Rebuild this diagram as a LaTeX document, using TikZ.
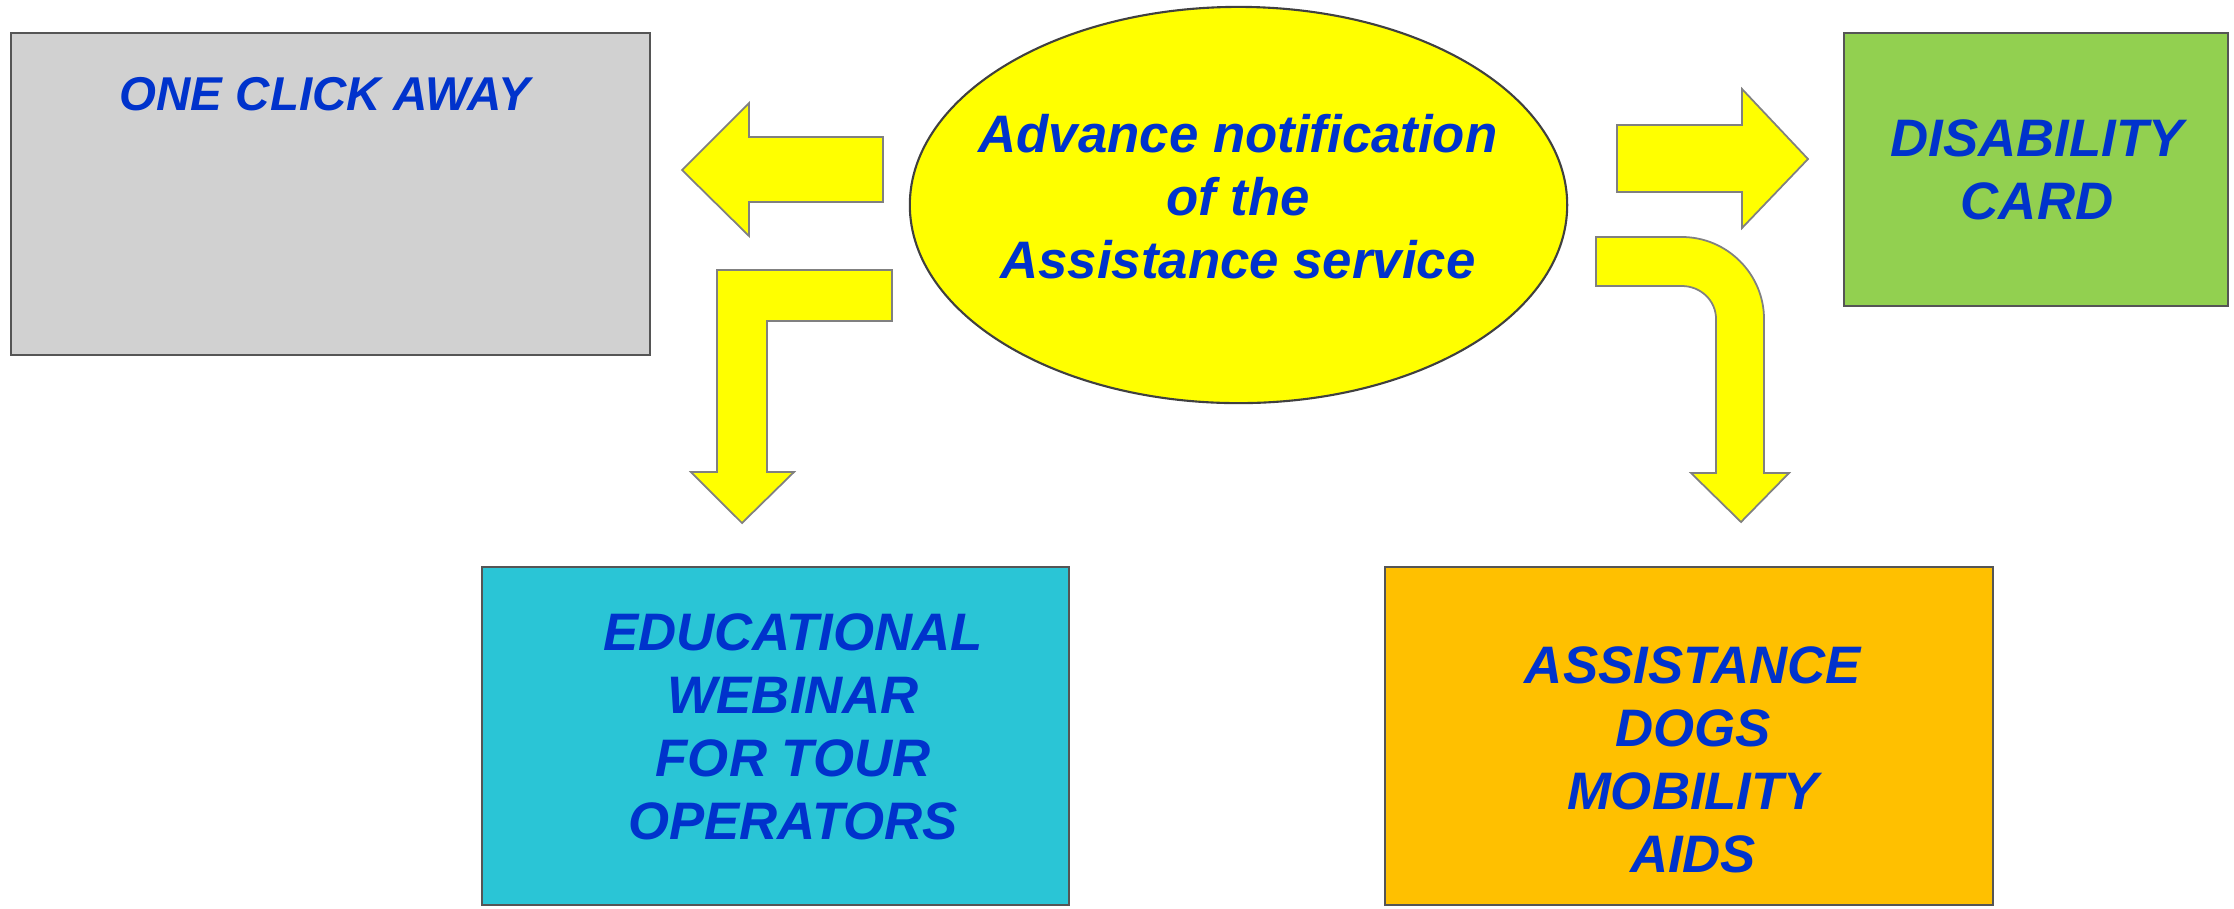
\documentclass[tikz,border=0pt]{standalone}
\usepackage{fontspec}
\setmainfont{Liberation Sans}
\usepackage{xcolor}
\usepackage{tikz}
\usetikzlibrary{shapes.geometric}

\definecolor{textblue}{HTML}{0033CC}
\definecolor{boxline}{HTML}{555555}
\definecolor{arrowline}{HTML}{808080}
\definecolor{clickgray}{HTML}{D1D1D1}
\definecolor{cardgreen}{HTML}{92D050}
\definecolor{webinarcyan}{HTML}{2AC5D6}
\definecolor{dogsorange}{HTML}{FFC000}
\definecolor{noticeyellow}{HTML}{FFFF00}

\begin{document}
\begin{tikzpicture}[x=0.01cm, y=-0.01cm,
        box/.style={rectangle, draw=boxline, line width=0.6pt, inner sep=0pt},
        caption/.style={text=textblue, align=center, inner sep=0pt,
            font=\fontsize{15}{17.9}\selectfont\bfseries\itshape},
        blockarrow/.style={draw=arrowline, fill=noticeyellow, line width=0.5pt, line join=miter}]
        \useasboundingbox (0, 0) rectangle (2234, 908);

        % the five shapes
        \node (clickbox) at (330.5, 194) [box, fill = clickgray, minimum width = 6.39cm, minimum height = 3.22cm] {};
        \node (notice) at (1238.5, 205) [ellipse, draw = black!75, line width = 0.6pt, fill = noticeyellow, minimum width = 6.57cm, minimum height = 3.96cm, inner sep = 0pt] {};
        \node (cardbox) at (2036, 169.5) [box, fill = cardgreen, minimum width = 3.84cm, minimum height = 2.73cm] {};
        \node (webinarbox) at (775.5, 736) [box, fill = webinarcyan, minimum width = 5.87cm, minimum height = 3.38cm] {};
        \node (dogsbox) at (1689, 736) [box, fill = dogsorange, minimum width = 6.08cm, minimum height = 3.38cm] {};

        % texts
        \node (click) at (325, 94) [caption, font = \fontsize{13.5}{17.9}\selectfont\bfseries\itshape] {ONE CLICK AWAY};
        \node (noticetext) at (1238, 196.5) [caption] {Advance notification\\of the\\Assistance service};
        \node (card) at (2037, 169.5) [caption] {DISABILITY\\CARD};
        \node (webinar) at (793, 727) [caption] {EDUCATIONAL\\WEBINAR\\FOR TOUR\\OPERATORS};
        \node (dogs) at (1693, 760) [caption] {ASSISTANCE\\DOGS\\MOBILITY\\AIDS};

        % block arrows
        \draw [blockarrow] (883, 137) -- (749, 137) -- (749, 103) -- (682, 170) -- (749, 236) -- (749, 202) -- (883, 202) -- cycle;
        \draw [blockarrow] (1617, 125) -- (1742, 125) -- (1742, 89) -- (1808, 159) -- (1742, 228) -- (1742, 192) -- (1617, 192) -- cycle;
        \draw [blockarrow] (892, 270) -- (717, 270) -- (717, 472) -- (691, 472) -- (742, 523) -- (794, 472) -- (767, 472) -- (767, 321) -- (892, 321) -- cycle;
        \draw [blockarrow] (1596, 237) -- (1682, 237) .. controls (1727, 237) and (1764, 274) .. (1764, 319) -- (1764, 473) -- (1789, 473) -- (1741, 522) -- (1691, 473) -- (1716, 473) -- (1716, 319) .. controls (1716, 300) and (1700, 286) .. (1682, 286) -- (1596, 286) -- cycle;
    \end{tikzpicture}
\end{document}
